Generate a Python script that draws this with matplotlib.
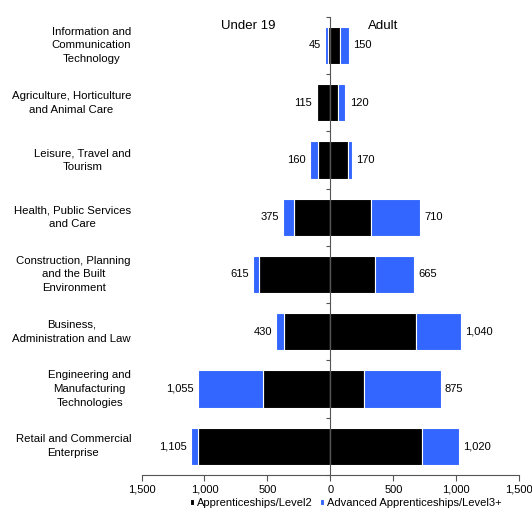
import numpy as np
import matplotlib.pyplot as plt
from matplotlib.ticker import FuncFormatter
from matplotlib.transforms import blended_transform_factory

plt.rcParams['font.family'] = ['Liberation Sans', 'DejaVu Sans']

# Sector subject areas, top to bottom
sectors = ['Information and\nCommunication\nTechnology',
           'Agriculture, Horticulture\nand Animal Care',
           'Leisure, Travel and\nTourism',
           'Health, Public Services\nand Care',
           'Construction, Planning\nand the Built\nEnvironment',
           'Business,\nAdministration and Law',
           'Engineering and\nManufacturing\nTechnologies',
           'Retail and Commercial\nEnterprise']

# Under 19 starts
u19_level2 = [20, 105, 95, 290, 570, 370, 535, 1050]
u19_level3 = [25, 10, 65, 85, 45, 60, 520, 55]
u19_total = [45, 115, 160, 375, 615, 430, 1055, 1105]

# Adult starts
adult_level2 = [75, 60, 140, 320, 355, 680, 265, 725]
adult_level3 = [75, 60, 30, 390, 310, 360, 610, 295]
adult_total = [150, 120, 170, 710, 665, 1040, 875, 1020]

black = '#000000'
blue = '#3366ff'

fig = plt.figure(figsize=(5.32, 5.23), dpi=100)
ax = fig.add_axes([0.266, 0.092, 0.710, 0.876])

y = np.arange(len(sectors))
h = 0.65

# left side drawn as negative values
ax.barh(y, -np.array(u19_level2), height=h, color=black, edgecolor='white', linewidth=0.8)
ax.barh(y, -np.array(u19_level3), left=-np.array(u19_level2), height=h,
        color=blue, edgecolor='white', linewidth=0.8)
ax.barh(y, adult_level2, height=h, color=black, edgecolor='white', linewidth=0.8,
        label='Apprenticeships/Level2')
ax.barh(y, adult_level3, left=adult_level2, height=h, color=blue, edgecolor='white',
        linewidth=0.8, label='Advanced Apprenticeships/Level3+')

# totals at the bar ends
for i in range(len(sectors)):
    ax.annotate(f'{u19_total[i]:,}', xy=(-(u19_level2[i] + u19_level3[i]), y[i]),
                xytext=(-3, 0), textcoords='offset points', ha='right', va='center',
                fontsize=8)
    ax.annotate(f'{adult_total[i]:,}', xy=(adult_level2[i] + adult_level3[i], y[i]),
                xytext=(3, 0), textcoords='offset points', ha='left', va='center',
                fontsize=8)

ax.set_xlim(-1500, 1500)
ax.set_ylim(len(sectors) - 0.5, -0.5)

# zero line acts as the category axis
ax.spines['left'].set_position(('data', 0))
ax.spines['left'].set_color('#555555')
ax.spines['bottom'].set_color('#555555')
ax.spines['top'].set_visible(False)
ax.spines['right'].set_visible(False)
ax.set_yticks(np.arange(len(sectors) + 1) - 0.5)
ax.set_yticklabels([])
ax.tick_params(axis='y', length=3, color='#555555')
ax.set_xticks([-1500, -1000, -500, 0, 500, 1000, 1500])
ax.xaxis.set_major_formatter(FuncFormatter(lambda v, p: f'{abs(int(v)):,}'))
ax.tick_params(axis='x', length=4, color='#555555', labelsize=8, pad=3)

# category names on the far left, right edge lined up
label_tr = blended_transform_factory(fig.transFigure, ax.transData)
for i, name in enumerate(sectors):
    ax.text(131 / 532, y[i], name, transform=label_tr, ha='right', va='center',
            multialignment='center', fontsize=8.2, linespacing=1.47)

ax.text(-650, -0.33, 'Under 19', ha='center', va='center', fontsize=9.5)
ax.text(420, -0.33, 'Adult', ha='center', va='center', fontsize=9.5)

fig.legend(loc='center', bbox_to_anchor=(0.65, 0.038), ncol=2, frameon=False,
           fontsize=8, handlelength=0.4, handleheight=0.4, handletextpad=0.3,
           columnspacing=0.6)

fig.savefig('out.png', dpi=100)
